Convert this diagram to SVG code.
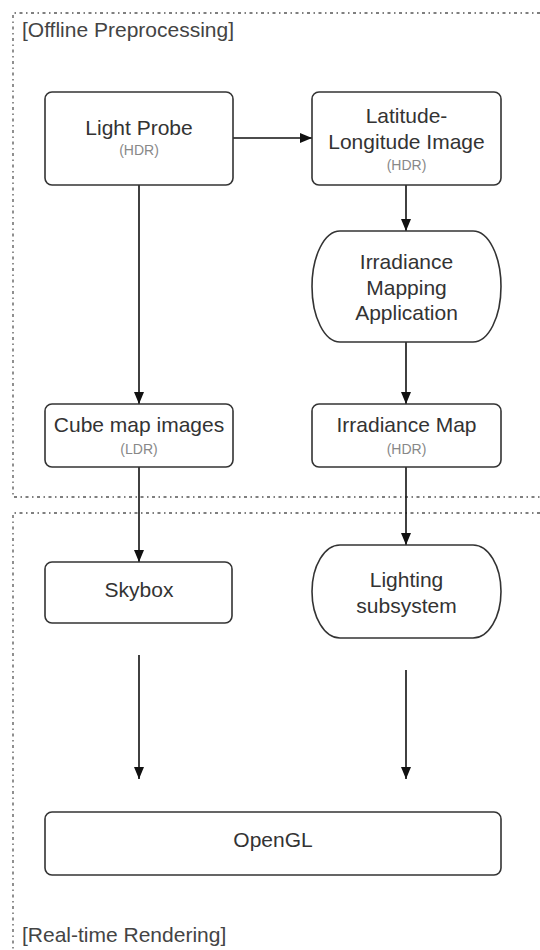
<svg xmlns="http://www.w3.org/2000/svg" width="540" height="950" viewBox="0 0 540 950">
<defs>
<style>
.frame{fill:none;stroke:#555;stroke-width:1.3;stroke-dasharray:1.5 3.5 3 3.5}
.box{fill:#fff;stroke:#333;stroke-width:1.6}
.lbl{font-family:"Liberation Sans",Arial,sans-serif;font-size:21px;fill:#333;text-anchor:middle}
.sub{font-family:"Liberation Sans",Arial,sans-serif;font-size:14px;fill:#888;text-anchor:middle}
.sec{font-family:"Liberation Sans",Arial,sans-serif;font-size:21px;fill:#444}
.edge{fill:none;stroke:#111;stroke-width:1.6}
</style>
<marker id="arr" viewBox="0 0 12 10" refX="12" refY="5" markerWidth="12" markerHeight="10" markerUnits="userSpaceOnUse" orient="auto">
<path d="M0,0 L12,5 L0,10 Z" fill="#111"/>
</marker>
</defs>
<rect width="540" height="950" fill="#fff"/>
<g id="sections">
<path class="frame" d="M545,13 H13 V497 H545"/>
<path class="frame" d="M545,513 H13 V955"/>
<text class="sec" x="22" y="37">[Offline Preprocessing]</text>
<text class="sec" x="22" y="942">[Real-time Rendering]</text>
</g>
<g id="connectors">
<path class="edge" d="M233,138 H312" marker-end="url(#arr)"/>
<path class="edge" d="M139,185 V404" marker-end="url(#arr)"/>
<path class="edge" d="M406,185 V231" marker-end="url(#arr)"/>
<path class="edge" d="M406,342 V404" marker-end="url(#arr)"/>
<path class="edge" d="M139,467 V562" marker-end="url(#arr)"/>
<path class="edge" d="M406,467 V545" marker-end="url(#arr)"/>
<path class="edge" d="M139,655 V779" marker-end="url(#arr)"/>
<path class="edge" d="M406,670 V779" marker-end="url(#arr)"/>
</g>
<g id="light-probe">
<rect class="box" x="45" y="92" width="188" height="93" rx="7"/>
<text class="lbl" x="139" y="135">Light Probe</text>
<text class="sub" x="139" y="155">(HDR)</text>
</g>
<g id="lat-long">
<rect class="box" x="312" y="92" width="189" height="93" rx="7"/>
<text class="lbl" x="406.5" y="123">Latitude-</text>
<text class="lbl" x="406.5" y="149">Longitude Image</text>
<text class="sub" x="406.5" y="170">(HDR)</text>
</g>
<g id="irradiance-app">
<path class="box" d="M340,231 H473 A28,55.5 0 0 1 473,342 H340 A28,55.5 0 0 1 340,231 Z"/>
<text class="lbl" x="406.5" y="269">Irradiance</text>
<text class="lbl" x="406.5" y="295">Mapping</text>
<text class="lbl" x="406.5" y="320">Application</text>
</g>
<g id="cube-map">
<rect class="box" x="45" y="404" width="188" height="63" rx="7"/>
<text class="lbl" x="139" y="432">Cube map images</text>
<text class="sub" x="139" y="454">(LDR)</text>
</g>
<g id="irradiance-map">
<rect class="box" x="312" y="404" width="189" height="63" rx="7"/>
<text class="lbl" x="406.5" y="432">Irradiance Map</text>
<text class="sub" x="406.5" y="454">(HDR)</text>
</g>
<g id="skybox">
<rect class="box" x="45" y="562" width="187" height="61" rx="7"/>
<text class="lbl" x="139" y="597">Skybox</text>
</g>
<g id="lighting">
<path class="box" d="M340,545 H473 A28,46.5 0 0 1 473,638 H340 A28,46.5 0 0 1 340,545 Z"/>
<text class="lbl" x="406.5" y="587">Lighting</text>
<text class="lbl" x="406.5" y="613">subsystem</text>
</g>
<g id="opengl">
<rect class="box" x="45" y="812" width="456" height="63" rx="7"/>
<text class="lbl" x="273" y="847">OpenGL</text>
</g>
</svg>
